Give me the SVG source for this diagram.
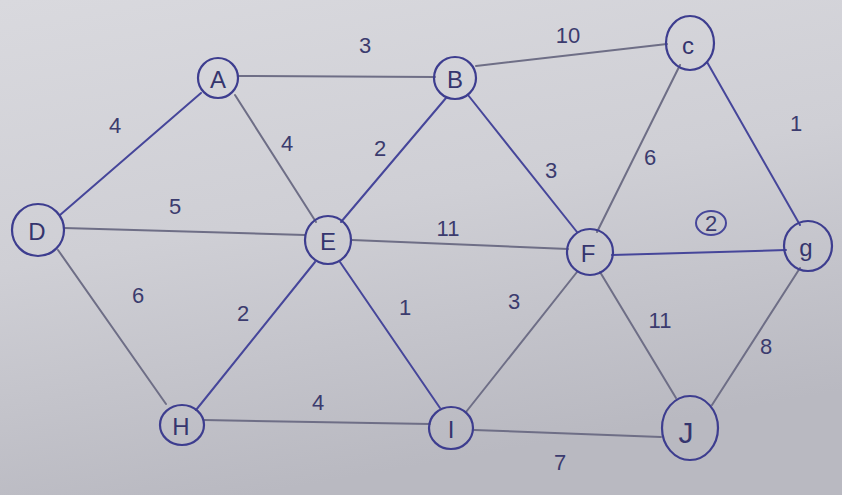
<svg xmlns="http://www.w3.org/2000/svg" width="842" height="495" viewBox="0 0 842 495">
<defs>
<linearGradient id="paper" x1="0" y1="0" x2="0.3" y2="1">
<stop offset="0" stop-color="#d9d9de"/>
<stop offset="0.5" stop-color="#cfcfd5"/>
<stop offset="1" stop-color="#b9b9c1"/>
</linearGradient>
<style>
.n ellipse{fill:none;stroke:#3d3d8f;stroke-width:2.2}
.n text{font-family:"Liberation Sans",sans-serif;font-size:24px;fill:#35356e;text-anchor:middle;dominant-baseline:central}
.e line{stroke-width:2;stroke-linecap:round}
.b{stroke:#46469a}
.g{stroke:#6e6e86}
.lbl text{font-family:"Liberation Sans",sans-serif;font-size:22px;fill:#3b3b6e;text-anchor:middle;dominant-baseline:central}
</style>
</defs>
<rect width="842" height="495" fill="url(#paper)"/>
<g id="connectors" class="e">
<line class="g" x1="238" y1="76" x2="435" y2="77"/>
<line class="g" x1="476" y1="66" x2="667" y2="44"/>
<line class="b" x1="60" y1="215" x2="201" y2="93"/>
<line class="g" x1="235" y1="95" x2="316" y2="222"/>
<line class="b" x1="341" y1="222" x2="446" y2="98"/>
<line class="b" x1="468" y1="95" x2="577" y2="232"/>
<line class="g" x1="680" y1="65" x2="597" y2="232"/>
<line class="b" x1="707" y1="62" x2="800" y2="225"/>
<line class="g" x1="64" y1="228" x2="305" y2="235"/>
<line class="g" x1="352" y1="240" x2="568" y2="249"/>
<line class="b" x1="612" y1="255" x2="786" y2="250"/>
<line class="g" x1="58" y1="250" x2="166" y2="404"/>
<line class="b" x1="196" y1="410" x2="315" y2="262"/>
<line class="b" x1="340" y1="262" x2="440" y2="408"/>
<line class="g" x1="466" y1="412" x2="577" y2="272"/>
<line class="g" x1="600" y1="272" x2="676" y2="398"/>
<line class="g" x1="800" y1="268" x2="712" y2="405"/>
<line class="g" x1="204" y1="420" x2="430" y2="424"/>
<line class="g" x1="474" y1="430" x2="661" y2="437"/>
</g>
<g id="labels" class="lbl">
<text x="365" y="45">3</text>
<text x="568" y="35">10</text>
<text x="115" y="125">4</text>
<text x="287" y="143">4</text>
<text x="380" y="148">2</text>
<text x="551" y="170">3</text>
<text x="650" y="157">6</text>
<text x="796" y="123">1</text>
<text x="175" y="206">5</text>
<text x="448" y="228">11</text>
<g><ellipse cx="711" cy="223" rx="15" ry="12" fill="none" stroke="#46469a" stroke-width="2"/><text x="711" y="223" font-size="18px">2</text></g>
<text x="138" y="295">6</text>
<text x="243" y="313">2</text>
<text x="405" y="307">1</text>
<text x="514" y="301">3</text>
<text x="660" y="320">11</text>
<text x="766" y="346">8</text>
<text x="318" y="402">4</text>
<text x="560" y="462">7</text>
</g>
<g id="node-A" class="n"><ellipse cx="218" cy="78" rx="20" ry="20"/><text x="218" y="79">A</text></g>
<g id="node-B" class="n"><ellipse cx="455" cy="78" rx="21" ry="21"/><text x="455" y="79">B</text></g>
<g id="node-c" class="n"><ellipse cx="690" cy="43" rx="24" ry="27"/><text x="688" y="45">c</text></g>
<g id="node-D" class="n"><ellipse cx="38" cy="230" rx="26" ry="26"/><text x="37" y="231">D</text></g>
<g id="node-E" class="n"><ellipse cx="328" cy="240" rx="23" ry="24"/><text x="328" y="241">E</text></g>
<g id="node-F" class="n"><ellipse cx="590" cy="252" rx="23" ry="23"/><text x="588" y="253">F</text></g>
<g id="node-g" class="n"><ellipse cx="808" cy="246" rx="24" ry="25"/><text x="806" y="247">g</text></g>
<g id="node-H" class="n"><ellipse cx="182" cy="425" rx="22" ry="20"/><text x="181" y="426">H</text></g>
<g id="node-I" class="n"><ellipse cx="451" cy="428" rx="22" ry="21"/><text x="451" y="429">I</text></g>
<g id="node-J" class="n"><ellipse cx="690" cy="428" rx="28" ry="32"/><text x="686" y="432" style="font-size:30px">J</text></g>
</svg>
